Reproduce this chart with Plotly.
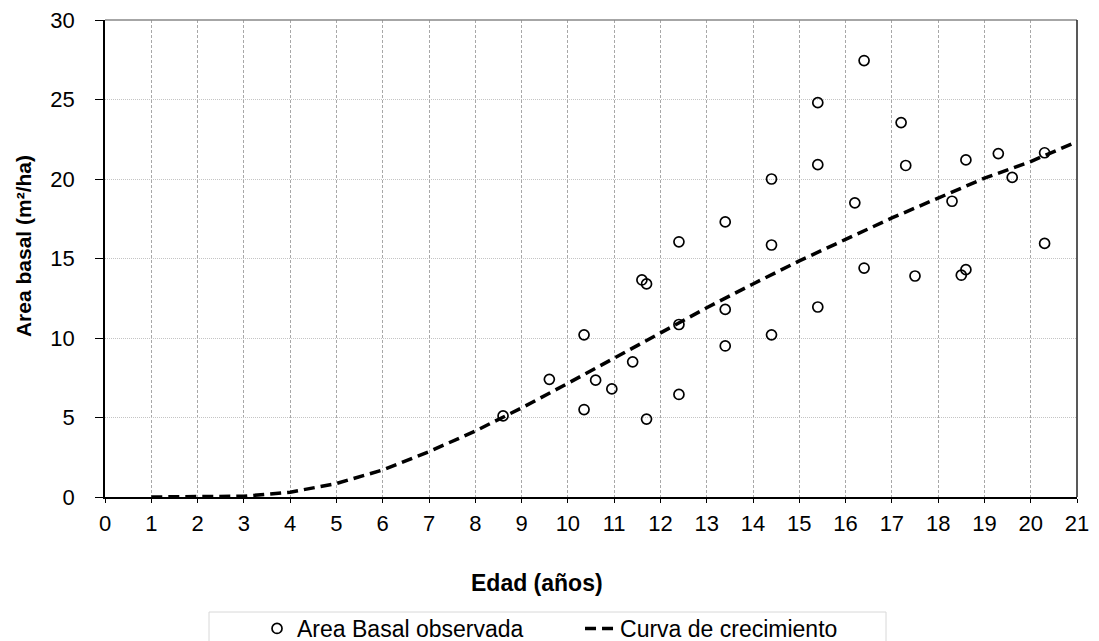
import plotly.graph_objects as go

# Observed data
obs_edad = [8.6, 9.6, 10.35, 10.35, 10.6, 10.95, 11.4, 11.6, 11.7, 11.7,
            12.4, 12.4, 12.4, 13.4, 13.4, 13.4, 14.4, 14.4, 14.4,
            15.4, 15.4, 15.4, 16.4, 16.4, 16.2, 17.2, 17.3, 17.5,
            18.3, 18.5, 18.6, 18.6, 19.3, 19.6, 20.3, 20.3]
obs_area = [5.1, 7.4, 10.2, 5.5, 7.35, 6.8, 8.5, 13.65, 13.4, 4.9,
            16.05, 10.85, 6.45, 17.3, 11.8, 9.5, 20.0, 15.85, 10.2,
            24.8, 20.9, 11.95, 27.45, 14.4, 18.5, 23.55, 20.85, 13.9,
            18.6, 13.95, 14.3, 21.2, 21.6, 20.1, 21.65, 15.95]

# Growth curve
curva_edad = [1, 2, 3, 4, 5, 6, 7, 8, 9, 10, 11, 12, 13, 14, 15, 16, 17, 18, 19, 20, 21]
curva_area = [0.0, 0.0, 0.05, 0.3, 0.85, 1.7, 2.85, 4.15, 5.6, 7.15, 8.75, 10.3,
              11.9, 13.4, 14.85, 16.2, 17.55, 18.8, 20.05, 21.1, 22.35]

x_ticks = list(range(0, 22))
y_ticks = [0, 5, 10, 15, 20, 25, 30]

FONT = "Liberation Sans, Arial, sans-serif"

fig = go.Figure()
fig.add_trace(go.Scatter(
    x=obs_edad, y=obs_area, mode="markers", name="Area Basal observada",
    marker=dict(symbol="circle-open", size=10, color="black", line=dict(width=1.7, color="black")),
))
fig.add_trace(go.Scatter(
    x=curva_edad, y=curva_area, mode="lines", name="Curva de crecimiento",
    line=dict(color="black", width=3.5, dash="11px,6px"),
))

fig.update_layout(
    width=1099, height=641,
    margin=dict(l=97, r=30, t=12, b=152, autoexpand=False),
    paper_bgcolor="white", plot_bgcolor="white",
    font=dict(family=FONT, size=22, color="black"),
    showlegend=True,
    legend=dict(
        orientation="h", x=0.1564, xanchor="left", y=-0.2306, yanchor="top",
        bgcolor="rgba(0,0,0,0)", borderwidth=0, font=dict(size=23),
        entrywidth=278, entrywidthmode="pixels", itemwidth=30,
    ),
    xaxis=dict(
        range=[0, 21], tickvals=x_ticks, ticktext=[str(v) for v in x_ticks],
        showgrid=True, gridcolor="#a8a8a8", griddash="3px,2px", gridwidth=1,
        showline=True, linecolor="black", linewidth=1.5, mirror=False,
        ticks="outside", ticklen=4, tickcolor="black", ticklabelstandoff=2,
        ticklabeloverflow="allow",
        zeroline=False, tickfont=dict(size=22),
    ),
    yaxis=dict(
        range=[0, 30], tickvals=y_ticks,
        showgrid=True, gridcolor="#c4c4c4", griddash="1px,1px", gridwidth=1,
        showline=True, linecolor="black", linewidth=1.5,
        ticks="outside", ticklen=8, tickcolor="black", ticklabelstandoff=16,
        ticklabeloverflow="allow",
        zeroline=False, tickfont=dict(size=22),
    ),
    shapes=[
        dict(type="line", xref="paper", yref="paper", x0=0, x1=1, y0=1, y1=1,
             line=dict(color="#888888", width=1.5)),
        dict(type="line", xref="paper", yref="paper", x0=1, x1=1, y0=0, y1=1,
             line=dict(color="#222222", width=1.5)),
        # legend frame
        dict(type="rect", xref="paper", yref="paper", x0=0.107, x1=0.8035, y0=-0.2411, y1=-0.40,
             line=dict(color="#d8d8d8", width=1), fillcolor="rgba(0,0,0,0)", layer="below"),
    ],
    annotations=[
        dict(text="<b>Edad (años)</b>", xref="paper", yref="paper", x=0.444, y=-0.180,
             xanchor="center", yanchor="middle", showarrow=False, font=dict(size=23)),
        dict(text="<b>Area basal (m²/ha)</b>", xref="paper", yref="paper", x=-0.0844, y=0.526,
             xanchor="center", yanchor="middle", textangle=-90, showarrow=False, font=dict(size=21)),
    ],
)

fig.write_html("out.html")
